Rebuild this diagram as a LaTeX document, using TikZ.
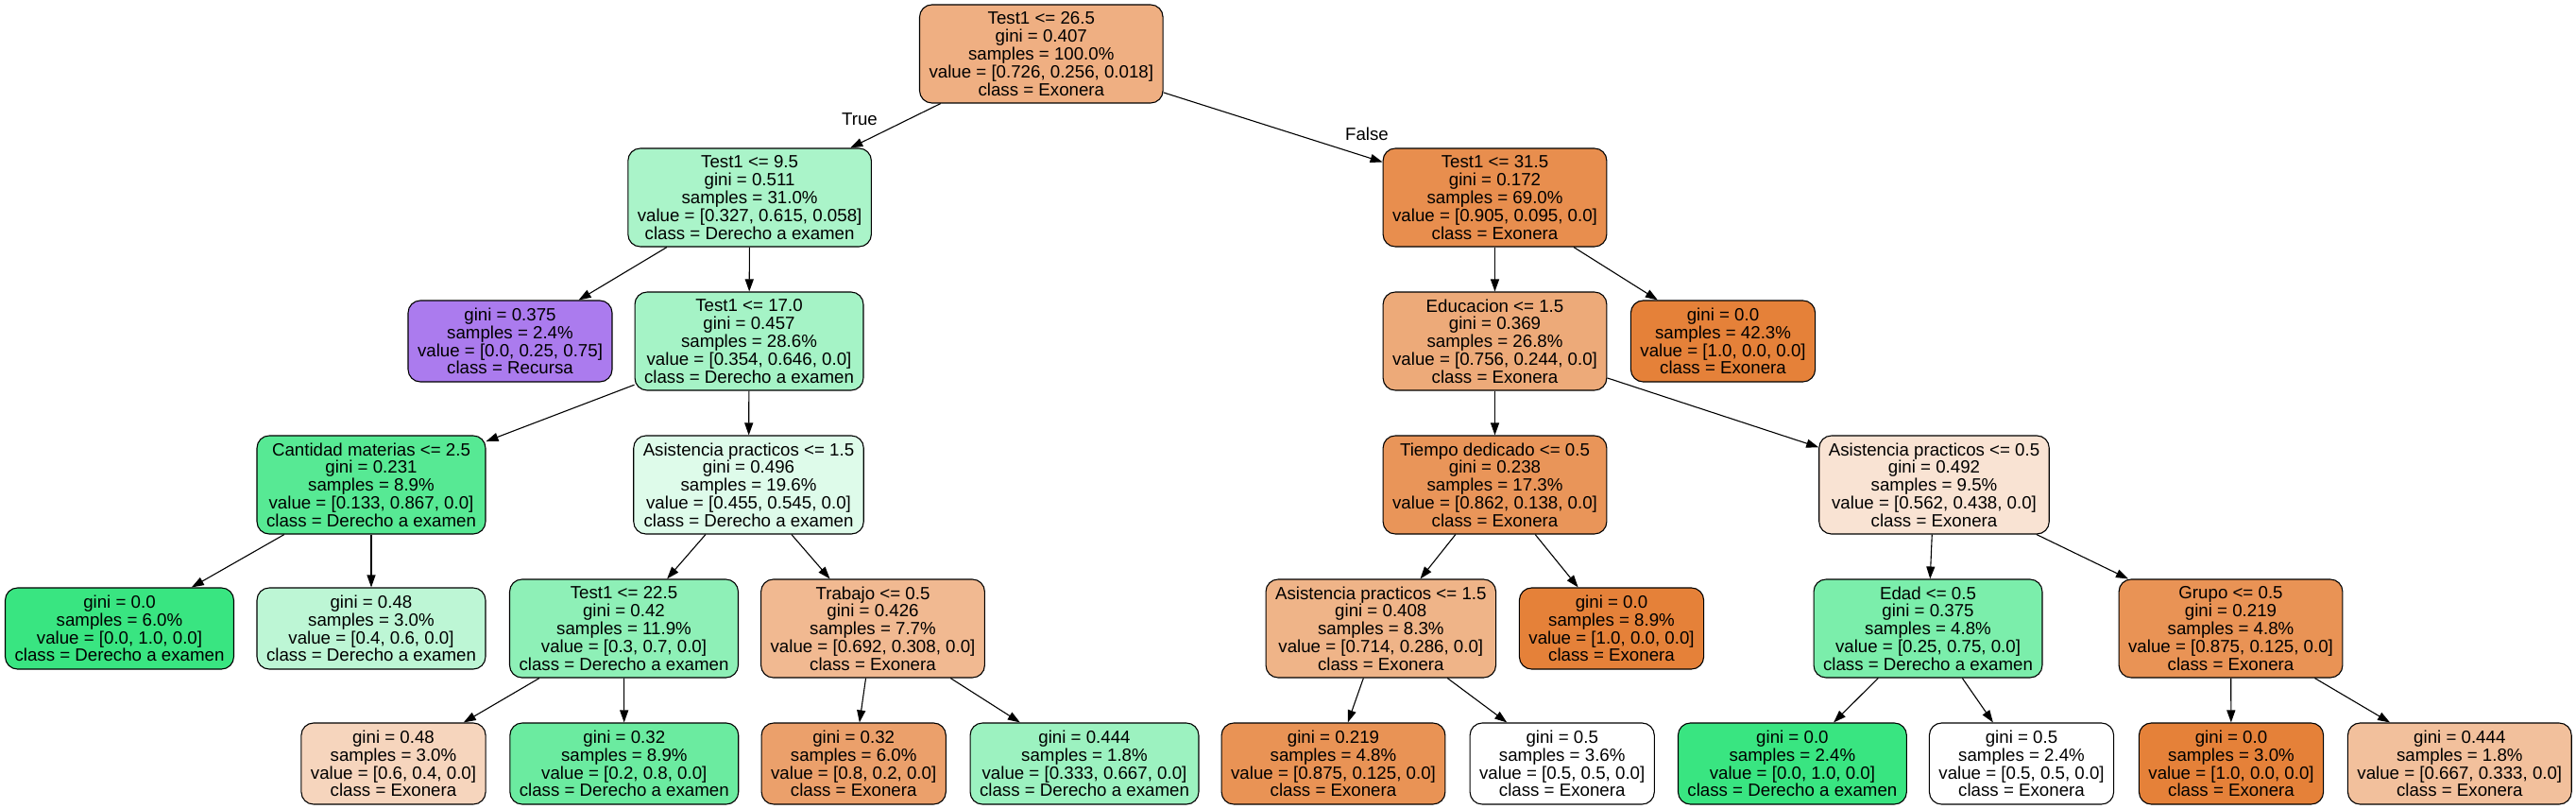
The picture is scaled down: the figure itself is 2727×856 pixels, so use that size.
\documentclass[tikz,border=0pt]{standalone}
\usepackage{fontspec}
\setmainfont{Liberation Sans}
\usetikzlibrary{arrows.meta}
\definecolor{cO}{RGB}{229,129,57}
\definecolor{cG}{RGB}{57,229,129}
\definecolor{cP}{RGB}{129,57,229}
\tikzset{
  tn/.style={draw=black, rounded corners=13pt, align=center, inner xsep=10pt, inner ysep=0pt,
    line width=1.1pt, minimum height=104pt, font=\fontsize{18.7}{18.8}\selectfont},
  lf/.style={tn, minimum height=86pt},
  edge/.style={draw=black, line width=1.1pt, -{Triangle[length=13pt,width=9pt]}},
  elab/.style={inner sep=0pt, font=\fontsize{18.7}{18.8}\selectfont}
}
\begin{document}
\begin{tikzpicture}[x=1pt,y=-1pt]
\useasboundingbox (0,0) rectangle (2727,856);
% row 0
\node[tn, fill=cO!63.2!white] (n0) at (1102.3,57) {Test1 <= 26.5\\gini = 0.407\\samples = 100.0\%\\value = [0.726, 0.256, 0.018]\\class = Exonera};
% row 1
\node[tn, fill=cG!42.8!white] (n1) at (793.6,209) {Test1 <= 9.5\\gini = 0.511\\samples = 31.0\%\\value = [0.327, 0.615, 0.058]\\class = Derecho a examen};
\node[tn, fill=cO!89.5!white] (n2) at (1582.5,209) {Test1 <= 31.5\\gini = 0.172\\samples = 69.0\%\\value = [0.905, 0.095, 0.0]\\class = Exonera};
% row 2
\node[lf, fill=cP!66.7!white] (n3) at (540,361) {gini = 0.375\\samples = 2.4\%\\value = [0.0, 0.25, 0.75]\\class = Recursa};
\node[tn, fill=cG!45.2!white] (n4) at (793,361) {Test1 <= 17.0\\gini = 0.457\\samples = 28.6\%\\value = [0.354, 0.646, 0.0]\\class = Derecho a examen};
\node[tn, fill=cO!67.7!white] (n5) at (1582.5,361) {Educacion <= 1.5\\gini = 0.369\\samples = 26.8\%\\value = [0.756, 0.244, 0.0]\\class = Exonera};
\node[lf, fill=cO] (n6) at (1824,361) {gini = 0.0\\samples = 42.3\%\\value = [1.0, 0.0, 0.0]\\class = Exonera};
% row 3
\node[tn, fill=cG!84.7!white] (n7) at (393,513) {Cantidad materias <= 2.5\\gini = 0.231\\samples = 8.9\%\\value = [0.133, 0.867, 0.0]\\class = Derecho a examen};
\node[tn, fill=cG!16.5!white] (n8) at (792.5,513) {Asistencia practicos <= 1.5\\gini = 0.496\\samples = 19.6\%\\value = [0.455, 0.545, 0.0]\\class = Derecho a examen};
\node[tn, fill=cO!84.0!white] (n9) at (1582.5,513) {Tiempo dedicado <= 0.5\\gini = 0.238\\samples = 17.3\%\\value = [0.862, 0.138, 0.0]\\class = Exonera};
\node[tn, fill=cO!22.1!white] (n10) at (2047.5,513) {Asistencia practicos <= 0.5\\gini = 0.492\\samples = 9.5\%\\value = [0.562, 0.438, 0.0]\\class = Exonera};
% row 4
\node[lf, fill=cG] (n11) at (126.5,665) {gini = 0.0\\samples = 6.0\%\\value = [0.0, 1.0, 0.0]\\class = Derecho a examen};
\node[lf, fill=cG!33.3!white] (n12) at (393,665) {gini = 0.48\\samples = 3.0\%\\value = [0.4, 0.6, 0.0]\\class = Derecho a examen};
\node[tn, fill=cG!57.1!white] (n13) at (660.5,665) {Test1 <= 22.5\\gini = 0.42\\samples = 11.9\%\\value = [0.3, 0.7, 0.0]\\class = Derecho a examen};
\node[tn, fill=cO!55.5!white] (n14) at (924,665) {Trabajo <= 0.5\\gini = 0.426\\samples = 7.7\%\\value = [0.692, 0.308, 0.0]\\class = Exonera};
\node[tn, fill=cO!59.9!white] (n15) at (1461.8,665) {Asistencia practicos <= 1.5\\gini = 0.408\\samples = 8.3\%\\value = [0.714, 0.286, 0.0]\\class = Exonera};
\node[lf, fill=cO] (n16) at (1706,665) {gini = 0.0\\samples = 8.9\%\\value = [1.0, 0.0, 0.0]\\class = Exonera};
\node[tn, fill=cG!66.7!white] (n17) at (2041,665) {Edad <= 0.5\\gini = 0.375\\samples = 4.8\%\\value = [0.25, 0.75, 0.0]\\class = Derecho a examen};
\node[tn, fill=cO!85.7!white] (n18) at (2361.5,665) {Grupo <= 0.5\\gini = 0.219\\samples = 4.8\%\\value = [0.875, 0.125, 0.0]\\class = Exonera};
% row 5
\node[lf, fill=cO!33.3!white] (n19) at (416.5,808) {gini = 0.48\\samples = 3.0\%\\value = [0.6, 0.4, 0.0]\\class = Exonera};
\node[lf, fill=cG!75!white] (n20) at (660.8,808) {gini = 0.32\\samples = 8.9\%\\value = [0.2, 0.8, 0.0]\\class = Derecho a examen};
\node[lf, fill=cO!75!white] (n21) at (903.7,808) {gini = 0.32\\samples = 6.0\%\\value = [0.8, 0.2, 0.0]\\class = Exonera};
\node[lf, fill=cG!50!white] (n22) at (1148,808) {gini = 0.444\\samples = 1.8\%\\value = [0.333, 0.667, 0.0]\\class = Derecho a examen};
\node[lf, fill=cO!85.7!white] (n23) at (1411.5,808) {gini = 0.219\\samples = 4.8\%\\value = [0.875, 0.125, 0.0]\\class = Exonera};
\node[lf, fill=white] (n24) at (1653.7,808) {gini = 0.5\\samples = 3.6\%\\value = [0.5, 0.5, 0.0]\\class = Exonera};
\node[lf, fill=cG] (n25) at (1897.4,808) {gini = 0.0\\samples = 2.4\%\\value = [0.0, 1.0, 0.0]\\class = Derecho a examen};
\node[lf, fill=white] (n26) at (2140,808) {gini = 0.5\\samples = 2.4\%\\value = [0.5, 0.5, 0.0]\\class = Exonera};
\node[lf, fill=cO] (n27) at (2362,808) {gini = 0.0\\samples = 3.0\%\\value = [1.0, 0.0, 0.0]\\class = Exonera};
\node[lf, fill=cO!50!white] (n28) at (2603.8,808) {gini = 0.444\\samples = 1.8\%\\value = [0.667, 0.333, 0.0]\\class = Exonera};
% edges
\draw[edge] (n0) -- (n1);
\draw[edge] (n0) -- (n2);
\draw[edge] (n1) -- (n3);
\draw[edge] (n1) -- (n4);
\draw[edge] (n2) -- (n5);
\draw[edge] (n2) -- (n6);
\draw[edge] (n4) -- (n7);
\draw[edge] (n4) -- (n8);
\draw[edge] (n5) -- (n9);
\draw[edge] (n5) -- (n10);
\draw[edge] (n7) -- (n11);
\draw[edge] (n7) -- (n12);
\draw[edge] (n8) -- (n13);
\draw[edge] (n8) -- (n14);
\draw[edge] (n9) -- (n15);
\draw[edge] (n9) -- (n16);
\draw[edge] (n10) -- (n17);
\draw[edge] (n10) -- (n18);
\draw[edge] (n13) -- (n19);
\draw[edge] (n13) -- (n20);
\draw[edge] (n14) -- (n21);
\draw[edge] (n14) -- (n22);
\draw[edge] (n15) -- (n23);
\draw[edge] (n15) -- (n24);
\draw[edge] (n17) -- (n25);
\draw[edge] (n17) -- (n26);
\draw[edge] (n18) -- (n27);
\draw[edge] (n18) -- (n28);
% edge labels
\node[elab] (ltrue) at (910,126) {True};
\node[elab] (lfalse) at (1447,141.5) {False};
\end{tikzpicture}
\end{document}
